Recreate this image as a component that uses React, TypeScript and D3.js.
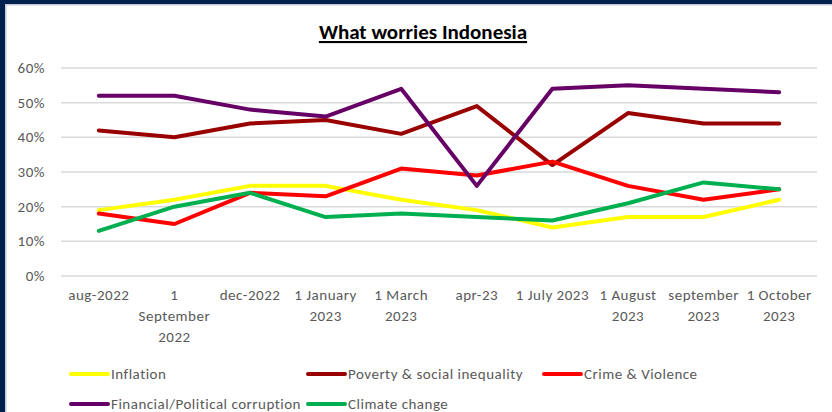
import React from "react";
import * as d3 from "d3";

const categories = [
  "aug-2022",
  "1\nSeptember\n2022",
  "dec-2022",
  "1 January\n2023",
  "1 March\n2023",
  "apr-23",
  "1 July 2023",
  "1 August\n2023",
  "september\n2023",
  "1 October\n2023",
];

const inflation = [19, 22, 26, 26, 22, 19, 14, 17, 17, 22];
const poverty = [42, 40, 44, 45, 41, 49, 32, 47, 44, 44];
const crime = [18, 15, 24, 23, 31, 29, 33, 26, 22, 25];
const corruption = [52, 52, 48, 46, 54, 26, 54, 55, 54, 53];
const climate = [13, 20, 24, 17, 18, 17, 16, 21, 27, 25];

const yTicks = [0, 10, 20, 30, 40, 50, 60];

const seriesNames = [
  "Inflation",
  "Poverty & social inequality",
  "Crime & Violence",
  "Financial/Political corruption",
  "Climate change",
];
const seriesColors = ["#FFFF00", "#990000", "#FF0000", "#660066", "#00B050"];
const seriesData = [inflation, poverty, crime, corruption, climate];
const FONT = "Carlito, Calibri, Lato, 'Open Sans', sans-serif";

export default function App() {
  const W = 832;
  const H = 412;
  const x = d3.scaleBand<number>().domain(d3.range(categories.length)).range([61, 817]);
  const y = d3.scaleLinear().domain([0, 60]).range([276, 68]);
  const line = d3
    .line<number>()
    .x((_, i) => (x(i) as number) + x.bandwidth() / 2)
    .y((d) => y(d));

  const legendPos = [
    [71, 374],
    [308, 374],
    [544, 374],
    [71, 404],
    [308, 404],
  ];

  return (
    <svg
      width={W}
      height={H}
      style={{ position: "absolute", left: 0, top: 0, background: "#fff" }}
      fontFamily={FONT}
    >
      <rect x={0} y={0} width={W} height={H} fill="#fff" />
      <rect x={0} y={0} width={W} height={4} fill="#00204F" />
      <rect x={0} y={0} width={5} height={H} fill="#00204F" />
      <rect x={5} y={4} width={W - 5} height={1.5} fill="#c5cad3" />
      <rect x={5} y={4} width={1.5} height={H - 4} fill="#c5cad3" />

      <text
        x={423}
        y={39}
        textAnchor="middle"
        fontSize={21}
        fontWeight="bold"
        fill="#000"
        textDecoration="underline"
      >
        What worries Indonesia
      </text>

      {yTicks.map((t) => (
        <g key={t}>
          <line x1={61} x2={817} y1={y(t)} y2={y(t)} stroke="#d9d9d9" strokeWidth={1.5} />
          <text x={45} y={y(t) + 5} textAnchor="end" fontSize={15} letterSpacing={0.5} fill="#595959">
            {t}%
          </text>
        </g>
      ))}

      {categories.map((c, i) => {
        const cx = (x(i) as number) + x.bandwidth() / 2;
        return (
          <text key={i} x={cx} y={300} textAnchor="middle" fontSize={15} letterSpacing={0.5} fill="#595959">
            {c.split("\n").map((ln, j) => (
              <tspan key={j} x={cx} dy={j === 0 ? 0 : 21}>
                {ln}
              </tspan>
            ))}
          </text>
        );
      })}

      {seriesData.map((s, k) => (
        <path
          key={k}
          d={line(s) as string}
          fill="none"
          stroke={seriesColors[k]}
          strokeWidth={4}
          strokeLinejoin="round"
          strokeLinecap="round"
        />
      ))}

      {seriesNames.map((n, k) => {
        const [lx, ly] = legendPos[k];
        return (
          <g key={n}>
            <line
              x1={lx}
              x2={lx + 37}
              y1={ly}
              y2={ly}
              stroke={seriesColors[k]}
              strokeWidth={4}
              strokeLinecap="round"
            />
            <text x={lx + 40} y={ly + 5} fontSize={15} letterSpacing={0.5} fill="#595959">
              {n}
            </text>
          </g>
        );
      })}
    </svg>
  );
}
